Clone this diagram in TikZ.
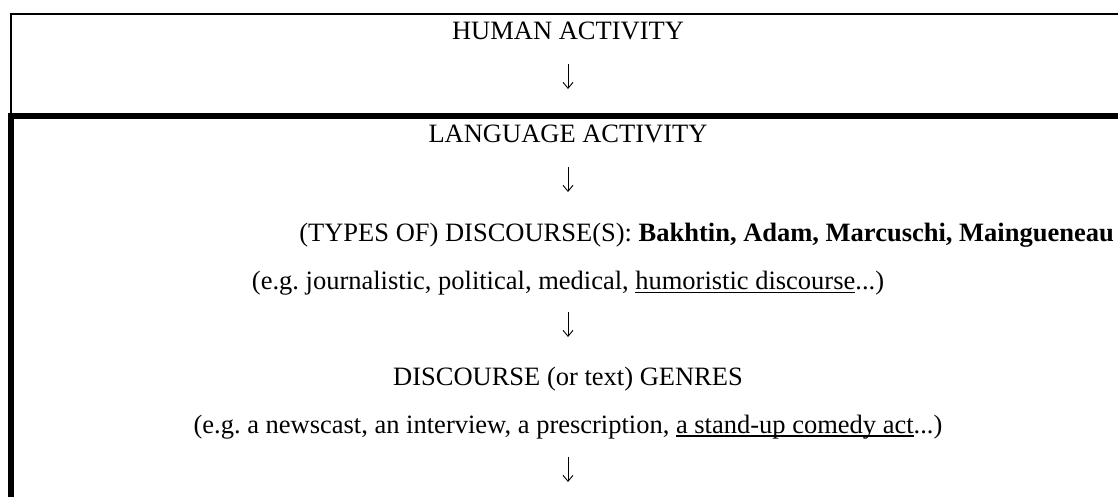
\documentclass[tikz,border=0pt]{standalone}
\usepackage{fontspec}
\setmainfont{Liberation Serif}
\usetikzlibrary{arrows.meta}
\frenchspacing
\newcommand\myul[1]{\setbox0\hbox{#1}\rlap{\rule[-3.8pt]{\wd0}{1.7pt}}\box0}
\begin{document}
\begin{tikzpicture}[x=1pt,y=-1pt,
  txt/.style={inner sep=0pt, anchor=base, font=\fontsize{26.5}{32}\selectfont},
  thinrule/.style={line width=1.8pt},
  thickrule/.style={fill=black},
  down/.style={line width=0.9pt, -{Straight Barb[length=6pt,width=10pt,line width=0.9pt]}}]
\useasboundingbox (0,0) rectangle (1118,497);
% top box
\draw[thinrule] (1118,14) -- (11,14) -- (11,116);
\fill[thickrule] (8,113) rectangle (1118,119);
\fill[thickrule] (8,113) rectangle (14,497);
% texts
\node[txt] (human) at (568,40) {HUMAN ACTIVITY};
\node[txt] (lang) at (568,143) {LANGUAGE ACTIVITY};
\node[txt, anchor=base east] (types) at (1114,241) {(TYPES OF) DISCOURSE(S): \textbf{Bakhtin, Adam, Marcuschi, Maingueneau}};
\node[txt] (eg1) at (568,289.5) {(e.g. journalistic, political, medical, \myul{humoristic discourse}...)};
\node[txt] (genres) at (568,385) {DISCOURSE (or text) GENRES};
\node[txt] (eg2) at (568,433) {(e.g. a newscast, an interview, a prescription, \myul{a stand-up comedy act}...)};
% arrows
\coordinate (a0s) at (568,64);  \coordinate (a0e) at (568,89);
\coordinate (a1s) at (568,167); \coordinate (a1e) at (568,192);
\coordinate (a2s) at (568,312); \coordinate (a2e) at (568,337);
\coordinate (a3s) at (568,457); \coordinate (a3e) at (568,482);
\draw[down] (a0s) -- (a0e);
\draw[down] (a1s) -- (a1e);
\draw[down] (a2s) -- (a2e);
\draw[down] (a3s) -- (a3e);
\end{tikzpicture}
\end{document}
